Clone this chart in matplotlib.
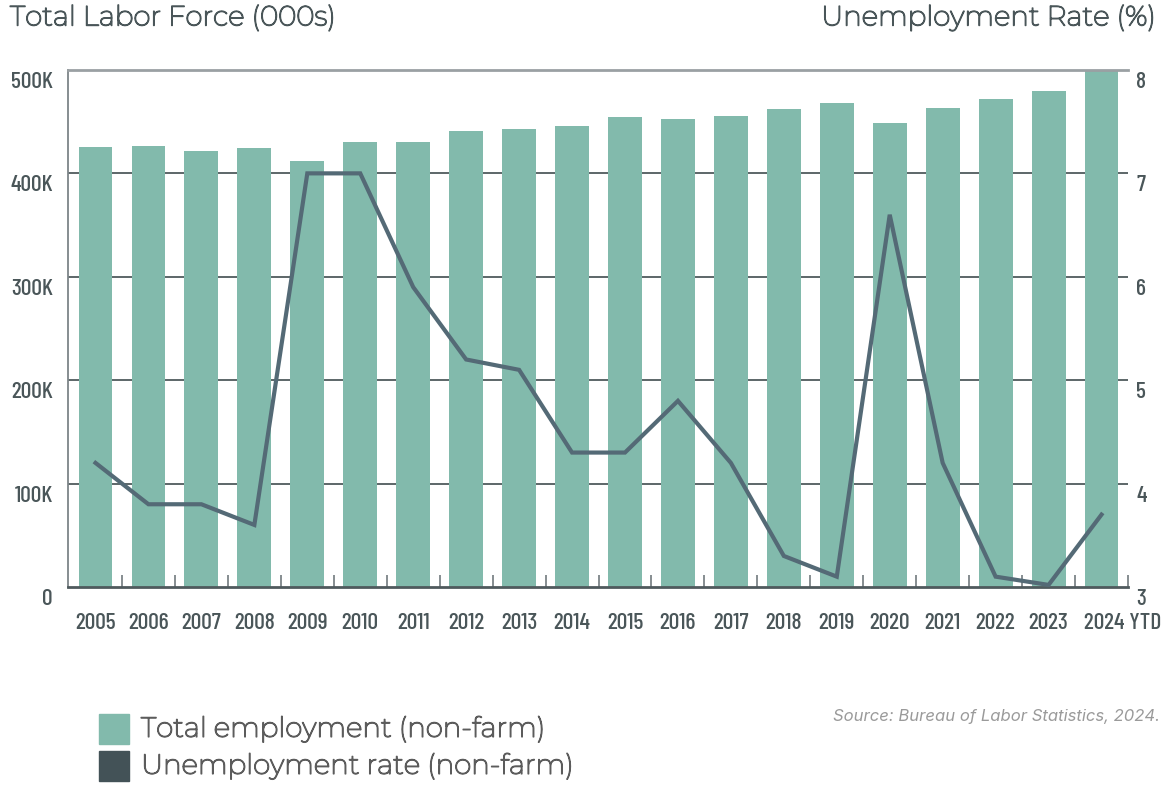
import matplotlib.pyplot as plt
import matplotlib.transforms as mtransforms
import matplotlib.patheffects as pe
from matplotlib.patches import Rectangle

years = ['2005', '2006', '2007', '2008', '2009', '2010', '2011', '2012', '2013', '2014',
         '2015', '2016', '2017', '2018', '2019', '2020', '2021', '2022', '2023', '2024 YTD']
employment = [425.5, 426.5, 421.7, 424.6, 412, 430, 430, 441, 443, 446,
              454.5, 452.6, 455.5, 462, 468, 448.7, 463, 472, 479.7, 500]  # thousands
unemployment = [4.2, 3.8, 3.8, 3.6, 7.0, 7.0, 5.9, 5.2, 5.1, 4.3,
                4.3, 4.8, 4.2, 3.3, 3.1, 6.6, 4.2, 3.1, 3.02, 3.7]
left_ticks = [0, 100, 200, 300, 400, 500]
left_labels = ['0', '100K', '200K', '300K', '400K', '500K']
right_ticks = [3, 4, 5, 6, 7, 8]

BAR = '#82baac'
LINE = '#546a76'
DARK = '#435257'
TXT = '#4a5659'
LEG_TXT = '#5c5c5c'

tick_font = ['Barlow Condensed', 'Archivo Narrow', 'DejaVu Sans']
title_font = ['Montserrat', 'Lato', 'DejaVu Sans']

fig = plt.figure(figsize=(11.66, 7.86), dpi=100)
ax = fig.add_axes([0.0583, 0.2532, 0.9091, 0.6578])
x = list(range(len(years)))

# grid behind the bars
for v in left_ticks[1:-1]:
    ax.axhline(v, color='#4f5a5d', lw=1.3, zorder=0)
ax.bar(x, employment, width=0.64, color=BAR, zorder=2)
ax.set_xlim(-0.52, 19.5)
ax.set_ylim(0, 500)

ax2 = ax.twinx()
ax2.plot(x, unemployment, color=LINE, lw=3, zorder=3, solid_joinstyle='miter')
ax2.set_ylim(3, 8)

for a in (ax, ax2):
    for s in a.spines.values():
        s.set_visible(False)
ax.spines['left'].set_visible(True)
ax.spines['left'].set_color('#7d8588')
ax.spines['left'].set_linewidth(1.3)
ax.spines['bottom'].set_visible(True)
ax.spines['bottom'].set_color('#4f5a5d')
ax.spines['bottom'].set_linewidth(2)
ax.spines['top'].set_visible(True)
ax.spines['top'].set_color('#9aa0a3')
ax.spines['top'].set_linewidth(2)

# ticks
ax.set_xticks(x)
ax.set_xticklabels(years, fontsize=17, color=TXT, family=tick_font, weight='medium')
ax.tick_params(axis='x', which='major', length=0, pad=19)
ax.set_xticks([i + 0.5 for i in x], minor=True)
ax.tick_params(axis='x', which='minor', direction='in', length=9, width=1.3, color='#7d8588')

ax.set_yticks(left_ticks)
ax.set_yticklabels(left_labels, fontsize=17, color=TXT, family=tick_font, weight='medium')
ax.tick_params(axis='y', length=0, pad=11)
ax2.set_yticks(right_ticks)
ax2.set_yticklabels([str(t) for t in right_ticks], fontsize=17, color=TXT, family=tick_font,
                    weight='medium')
ax2.tick_params(axis='y', length=0, pad=6)

down = mtransforms.ScaledTranslation(0, -0.10, fig.dpi_scale_trans)
for lab in ax.get_yticklabels() + ax2.get_yticklabels():
    lab.set_transform(lab.get_transform() + down)
last = ax.get_xticklabels()[-1]
last.set_horizontalalignment('left')
last.set_transform(last.get_transform() + mtransforms.ScaledTranslation(-0.18, 0, fig.dpi_scale_trans))

# titles (thin font thickened with a stroke)
def bold_fx(c):
    return [pe.withStroke(linewidth=1.0, foreground=c)]

fig.text(10 / 1166, 1 - 18 / 786, 'Total Labor Force (000s)', fontsize=20, color=TXT,
         family=title_font, va='center', ha='left', path_effects=bold_fx(TXT))
fig.text(1156 / 1166, 1 - 18 / 786, 'Unemployment Rate (%)', fontsize=20, color=TXT,
         family=title_font, va='center', ha='right', path_effects=bold_fx(TXT))

# legend
for i, (lab, col) in enumerate([('Total employment (non-farm)', BAR),
                                ('Unemployment rate (non-farm)', DARK)]):
    y0 = 1 - (744 + 37 * i) / 786
    fig.patches.append(Rectangle((99 / 1166, y0), 30 / 1166, 30 / 786, color=col,
                                 transform=fig.transFigure, figure=fig))
    fig.text(141 / 1166, y0 + 15 / 786, lab, fontsize=20, color=LEG_TXT,
             family=title_font, va='center', ha='left', path_effects=bold_fx(LEG_TXT))

fig.text(1160 / 1166, 1 - 717 / 786, 'Source: Bureau of Labor Statistics, 2024.',
         fontsize=12, color='#9a9a9a', style='italic', family=['Inter', 'Roboto', 'DejaVu Sans'],
         va='center', ha='right')

fig.savefig('out.png', dpi=100)
